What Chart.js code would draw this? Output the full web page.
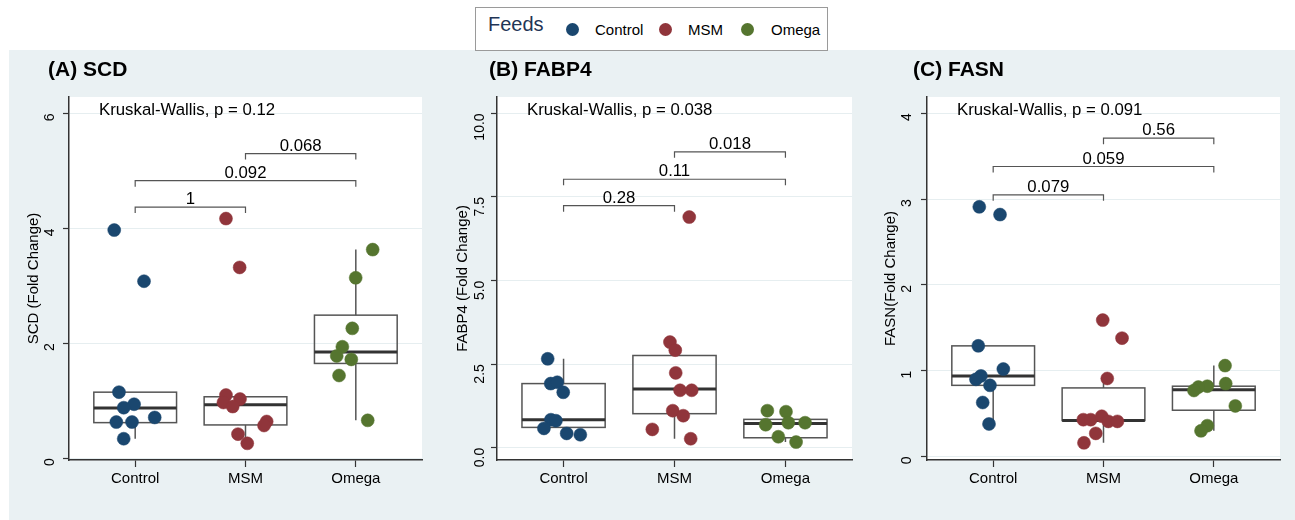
<!DOCTYPE html>
<html>
<head>
<meta charset="utf-8">
<script src="https://cdn.jsdelivr.net/npm/chart.js@4.4.0/dist/chart.umd.min.js"></script>
<style>
  body { margin: 0; background: #fff; font-family: "Liberation Sans", Arial, sans-serif; }
  #bg { position: absolute; left: 9px; top: 50px; width: 1286px; height: 470px; background: #eaf1f3; }
  canvas { position: absolute; top: 50px; }
  #legend { position: absolute; left: 475px; top: 7px; width: 351px; height: 42px; border: 1px solid #9a9a9a; background: #fff; }
  #legend span { position: absolute; white-space: nowrap; }
  #legend .ttl { font-size: 20px; color: #1f3556; top: 5px; }
  #legend .lbl { font-size: 15px; color: #000; top: 13px; }
  #legend .dot { width: 13px; height: 13px; border-radius: 50%; top: 15px; }
</style>
</head>
<body>
<div id="bg"></div>
<div id="legend">
  <span class="ttl" style="left:12px">Feeds</span>
  <span class="dot" style="left:90px;background:#1a476f"></span>
  <span class="lbl" style="left:119px">Control</span>
  <span class="dot" style="left:183px;background:#90353b"></span>
  <span class="lbl" style="left:212px">MSM</span>
  <span class="dot" style="left:265px;background:#55752f"></span>
  <span class="lbl" style="left:295px">Omega</span>
</div>
<canvas id="chartA" width="420" height="470" style="left:9px"></canvas>
<canvas id="chartB" width="420" height="470" style="left:439px"></canvas>
<canvas id="chartC" width="425" height="470" style="left:868px"></canvas>
<script>
const groups = ['Control', 'MSM', 'Omega'];
const colors = ['#1a476f', '#90353b', '#55752f'];
const pairs = [[1, 2], [1, 3], [2, 3]];

// (A) SCD - jittered x position and value of each sample, per group
const scdX = [
  [0.81, 1.08, 0.853, 0.99, 0.896, 0.829, 0.971, 1.177, 0.896],
  [1.823, 1.947, 1.823, 1.95, 1.80, 1.884, 2.192, 2.168, 1.932, 2.016],
  [3.153, 2.999, 2.968, 2.878, 2.827, 2.959, 2.848, 3.108]
];
const scdY = [
  [3.97, 3.08, 1.15, 0.94, 0.88, 0.63, 0.63, 0.71, 0.34],
  [4.17, 3.32, 1.10, 1.03, 0.97, 0.90, 0.64, 0.57, 0.42, 0.26],
  [3.63, 3.14, 2.26, 1.94, 1.78, 1.72, 1.44, 0.66]
];
// [lower whisker, q1, median, q3, upper whisker]
const scdBox = [[0.34, 0.62, 0.875, 1.15, 1.15], [0.26, 0.58, 0.93, 1.07, 1.07], [0.66, 1.65, 1.85, 2.49, 3.63]];
const scdTicks = [0, 2, 4, 6];
const scdBracketY = [4.37, 4.83, 5.30];
const scdP = ['1', '0.092', '0.068'];
const scdKW = 'Kruskal-Wallis, p = 0.12';

// (B) FABP4
const fabp4X = [
  [0.857, 0.884, 0.943, 0.997, 0.886, 0.931, 0.823, 1.028, 1.151],
  [2.133, 1.959, 2.007, 2.011, 2.05, 2.155, 1.984, 2.079, 1.80, 2.146],
  [2.837, 3.005, 2.822, 3.026, 3.177, 2.936, 3.096]
];
const fabp4Y = [
  [2.66, 1.92, 1.96, 1.66, 0.84, 0.81, 0.58, 0.43, 0.39],
  [6.90, 3.16, 2.92, 2.24, 1.72, 1.72, 1.11, 0.96, 0.55, 0.27],
  [1.11, 1.08, 0.69, 0.75, 0.75, 0.33, 0.17]
];
const fabp4Box = [[0.39, 0.61, 0.84, 1.92, 2.66], [0.27, 1.02, 1.76, 2.76, 3.16], [0.17, 0.30, 0.73, 0.85, 1.11]];
const fabp4Ticks = [0, 2.5, 5, 7.5, 10];
const fabp4BracketY = [7.24, 8.03, 8.85];
const fabp4P = ['0.28', '0.11', '0.018'];
const fabp4KW = 'Kruskal-Wallis, p = 0.038';

// (C) FASN
const fasnX = [
  [0.874, 1.062, 0.865, 1.092, 0.889, 0.844, 0.971, 0.905, 0.962],
  [1.993, 2.168, 2.034, 1.817, 1.884, 1.984, 2.044, 2.126, 1.93, 1.823],
  [3.102, 3.108, 2.941, 2.86, 2.82, 3.195, 2.941, 2.884]
];
const fasnY = [
  [2.91, 2.82, 1.29, 1.02, 0.94, 0.90, 0.83, 0.63, 0.38],
  [1.59, 1.38, 0.91, 0.43, 0.43, 0.47, 0.41, 0.41, 0.27, 0.16],
  [1.06, 0.85, 0.82, 0.81, 0.77, 0.59, 0.36, 0.30]
];
const fasnBox = [[0.38, 0.83, 0.94, 1.29, 1.29], [0.16, 0.42, 0.42, 0.80, 0.91], [0.30, 0.54, 0.78, 0.82, 1.06]];
const fasnTicks = [0, 1, 2, 3, 4];
const fasnBracketY = [3.05, 3.38, 3.71];
const fasnP = ['0.079', '0.059', '0.56'];
const fasnKW = 'Kruskal-Wallis, p = 0.091';

Chart.defaults.font.family = "'Liberation Sans', Arial, sans-serif";

// draws white plot region, boxes, brackets and panel texts
const boxPlugin = {
  id: 'boxes',
  beforeDraw(chart) {
    const a = chart.chartArea;
    chart.ctx.save();
    chart.ctx.fillStyle = '#fff';
    chart.ctx.fillRect(a.left, a.top, a.right - a.left, a.bottom - a.top);
    chart.ctx.restore();
  },
  beforeDatasetsDraw(chart, args, opts) {
    const ctx = chart.ctx;
    const xs = chart.scales.x, ys = chart.scales.y;
    ctx.save();
    opts.boxes.forEach((b, i) => {
      const cx = xs.getPixelForValue(i + 1);
      const l = xs.getPixelForValue(i + 1 - 0.375);
      const r = xs.getPixelForValue(i + 1 + 0.375);
      const [lo, q1, med, q3, hi] = b.map(v => ys.getPixelForValue(v));
      ctx.strokeStyle = '#555';
      ctx.lineWidth = 1.5;
      ctx.beginPath();
      ctx.moveTo(cx, q1); ctx.lineTo(cx, lo);
      ctx.moveTo(cx, q3); ctx.lineTo(cx, hi);
      ctx.stroke();
      ctx.strokeRect(l, q3, r - l, q1 - q3);
      ctx.strokeStyle = '#333';
      ctx.lineWidth = 3;
      ctx.beginPath();
      ctx.moveTo(l, med); ctx.lineTo(r, med);
      ctx.stroke();
    });
    ctx.restore();
  },
  afterDraw(chart, args, opts) {
    const ctx = chart.ctx;
    const xs = chart.scales.x, ys = chart.scales.y;
    const a = chart.chartArea;
    ctx.save();
    ctx.strokeStyle = '#555';
    ctx.lineWidth = 1.2;
    ctx.fillStyle = '#000';
    ctx.font = "16.8px 'Liberation Sans', Arial, sans-serif";
    ctx.textAlign = 'center';
    ctx.textBaseline = 'alphabetic';
    pairs.forEach((p, i) => {
      const x1 = xs.getPixelForValue(p[0]);
      const x2 = xs.getPixelForValue(p[1]);
      const y = ys.getPixelForValue(opts.bracketY[i]);
      ctx.beginPath();
      ctx.moveTo(x1, y + 6); ctx.lineTo(x1, y); ctx.lineTo(x2, y); ctx.lineTo(x2, y + 6);
      ctx.stroke();
      ctx.fillText(opts.pLabels[i], (x1 + x2) / 2, y - 3);
    });
    ctx.textAlign = 'left';
    ctx.fillText(opts.kw, a.left + 30, a.top + 18);
    ctx.font = "bold 21px 'Liberation Sans', Arial, sans-serif";
    ctx.fillText(opts.title, opts.titleX, 26);
    ctx.restore();
  }
};

function makePanel(id, p) {
  const datasets = groups.map((g, i) => ({
    label: g,
    data: p.xs[i].map((x, j) => ({x: x, y: p.ys[i][j]})),
    backgroundColor: colors[i],
    borderColor: colors[i],
    pointRadius: 6.5,
    pointBorderWidth: 0.5
  }));
  return new Chart(document.getElementById(id), {
    type: 'scatter',
    data: {datasets: datasets},
    plugins: [boxPlugin],
    options: {
      responsive: false,
      animation: false,
      layout: {padding: {top: 47, right: p.rightPad, bottom: 0, left: 0}},
      plugins: {
        legend: {display: false},
        tooltip: {enabled: false},
        boxes: {boxes: p.boxes, bracketY: p.bracketY, pLabels: p.pLabels, kw: p.kw, title: p.title, titleX: p.titleX}
      },
      scales: {
        x: {
          type: 'linear', min: 0.4, max: 3.6,
          afterBuildTicks: s => { s.ticks = [1, 2, 3].map(v => ({value: v})); },
          afterFit: s => { s.height = 60; },
          ticks: {callback: v => groups[v - 1], font: {size: 15}, color: '#000', padding: 3, maxRotation: 0, autoSkip: false},
          grid: {drawOnChartArea: false, tickLength: 7, tickColor: '#333', tickWidth: 1.2},
          border: {color: '#333', width: 1.5}
        },
        y: {
          type: 'linear', min: p.yMin, max: p.yMax,
          afterBuildTicks: s => { s.ticks = p.ticks.map(v => ({value: v})); },
          afterFit: s => { s.width = p.yWidth; },
          ticks: {callback: v => v.toFixed(p.digits), font: {size: 14}, color: '#000',
                  minRotation: 90, maxRotation: 90, padding: p.tickPad},
          grid: {color: '#e6eef0', lineWidth: 1, tickLength: 6, tickColor: '#333', tickWidth: 1.2},
          border: {color: '#333', width: 1.5},
          title: {display: true, text: p.yTitle, font: {size: 15}, color: '#000', padding: {top: p.yTitlePad, bottom: 0}}
        }
      }
    }
  });
}

makePanel('chartA', {
  xs: scdX, ys: scdY, boxes: scdBox, ticks: scdTicks, bracketY: scdBracketY, pLabels: scdP, kw: scdKW,
  title: '(A) SCD', titleX: 39, yTitle: 'SCD (Fold Change)', yTitlePad: 16.2,
  yMin: -0.03, yMax: 6.285, digits: 0, tickPad: 13, yWidth: 60, rightPad: 7
});
makePanel('chartB', {
  xs: fabp4X, ys: fabp4Y, boxes: fabp4Box, ticks: fabp4Ticks, bracketY: fabp4BracketY, pLabels: fabp4P, kw: fabp4KW,
  title: '(B) FABP4', titleX: 50, yTitle: 'FABP4 (Fold Change)', yTitlePad: 14.5,
  yMin: -0.365, yMax: 10.49, digits: 1, tickPad: 11, yWidth: 58, rightPad: 7
});
makePanel('chartC', {
  xs: fasnX, ys: fasnY, boxes: fasnBox, ticks: fasnTicks, bracketY: fasnBracketY, pLabels: fasnP, kw: fasnKW,
  title: '(C) FASN', titleX: 45, yTitle: 'FASN(Fold Change)', yTitlePad: 14,
  yMin: -0.04, yMax: 4.19, digits: 0, tickPad: 14, yWidth: 59, rightPad: 13
});
</script>
</body>
</html>
